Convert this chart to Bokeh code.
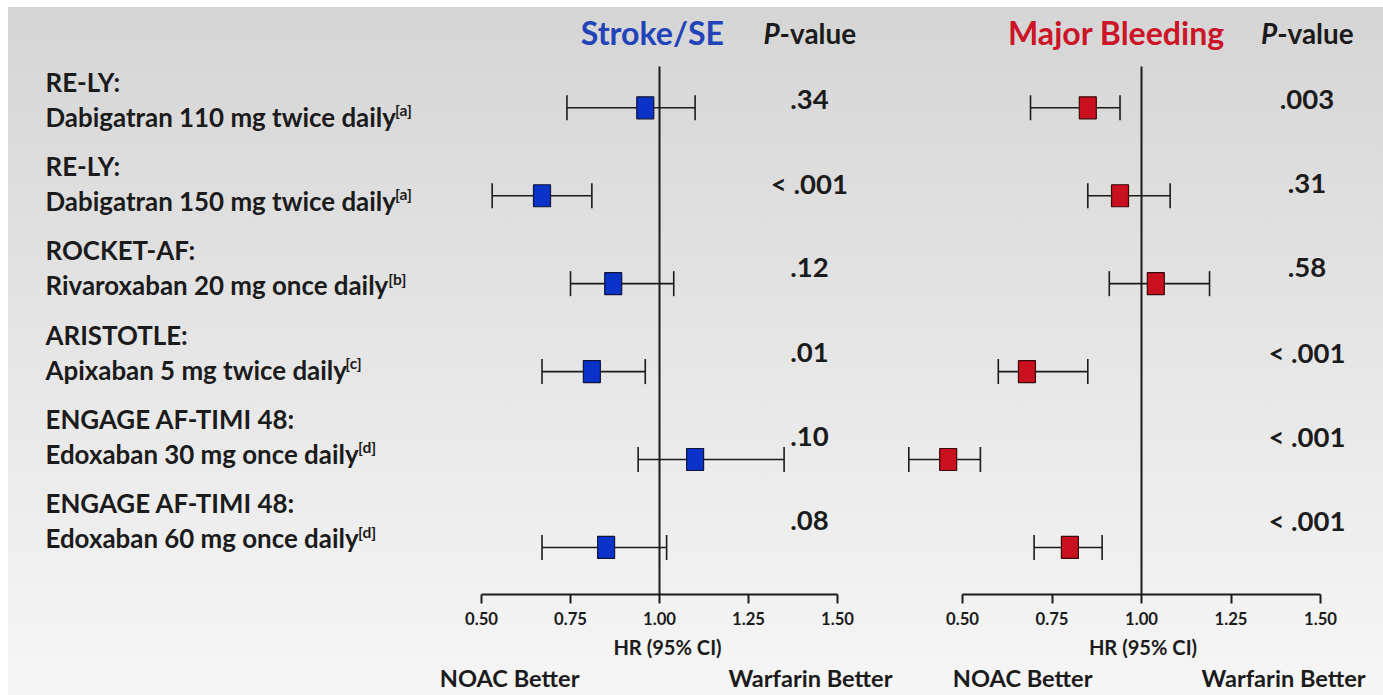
import glob
import os
import struct

from bokeh.core.properties import value
from bokeh.embed import file_html
from bokeh.layouts import Row
from bokeh.models import (ColumnDataSource, FixedTicker, LinearAxis, Range1d,
                          TeeHead, Whisker)
from bokeh.plotting import figure
from bokeh.resources import INLINE

# ---------------------------------------------------------------- data
studies = ["RE-LY:", "RE-LY:", "ROCKET-AF:", "ARISTOTLE:",
           "ENGAGE AF-TIMI 48:", "ENGAGE AF-TIMI 48:"]
regimens = ["Dabigatran 110 mg twice daily", "Dabigatran 150 mg twice daily",
            "Rivaroxaban 20 mg once daily", "Apixaban 5 mg twice daily",
            "Edoxaban 30 mg once daily", "Edoxaban 60 mg once daily"]
refs = ["[a]", "[a]", "[b]", "[c]", "[d]", "[d]"]

stroke_hr = [0.96, 0.67, 0.87, 0.81, 1.10, 0.85]
stroke_lo = [0.74, 0.53, 0.75, 0.67, 0.94, 0.67]
stroke_hi = [1.10, 0.81, 1.04, 0.96, 1.35, 1.02]
stroke_p = [".34", "< .001", ".12", ".01", ".10", ".08"]

bleed_hr = [0.85, 0.94, 1.04, 0.68, 0.46, 0.80]
bleed_lo = [0.69, 0.85, 0.91, 0.60, 0.35, 0.70]
bleed_hi = [0.94, 1.08, 1.19, 0.85, 0.55, 0.89]
bleed_p = [".003", ".31", ".58", "< .001", "< .001", "< .001"]

tick_values = [0.5, 0.75, 1.0, 1.25, 1.5]
tick_labels = ["0.50", "0.75", "1.00", "1.25", "1.50"]
axis_title = "HR (95% CI)"
left_note = "NOAC Better"
right_note = "Warfarin Better"

rows = list(range(len(studies)))

# ---------------------------------------------------------------- font metrics (for text sizing)
def _make_measure():
    path = None
    for root in ["/usr/share/fonts", "/usr/local/share/fonts",
                 os.path.expanduser("~/.fonts"), os.path.expanduser("~/.local/share/fonts")]:
        hits = glob.glob(os.path.join(root, "**", "Lato-Bold.ttf"), recursive=True)
        if hits:
            path = hits[0]
            break
    if path is None:
        raise RuntimeError("no font")
    d = open(path, "rb").read()
    base = struct.unpack(">I", d[12:16])[0] if d[:4] == b"ttcf" else 0
    n = struct.unpack(">H", d[base + 4:base + 6])[0]
    tab = {}
    for i in range(n):
        tag, _, off, _ln = struct.unpack(">4sIII", d[base + 12 + 16 * i: base + 28 + 16 * i])
        tab[tag] = off
    upem = struct.unpack(">H", d[tab[b"head"] + 18: tab[b"head"] + 20])[0]
    nhm = struct.unpack(">H", d[tab[b"hhea"] + 34: tab[b"hhea"] + 36])[0]
    hm = tab[b"hmtx"]
    adv = [struct.unpack(">H", d[hm + 4 * i: hm + 4 * i + 2])[0] for i in range(nhm)]
    cm = tab[b"cmap"]
    nsub = struct.unpack(">H", d[cm + 2: cm + 4])[0]
    st = None
    for i in range(nsub):
        pid, eid, off = struct.unpack(">HHI", d[cm + 4 + 8 * i: cm + 12 + 8 * i])
        if struct.unpack(">H", d[cm + off: cm + off + 2])[0] == 4:
            st = cm + off
            if (pid, eid) == (3, 1):
                break
    segx2 = struct.unpack(">H", d[st + 6: st + 8])[0]
    seg = segx2 // 2
    ends = struct.unpack(">%dH" % seg, d[st + 14: st + 14 + segx2])
    starts = struct.unpack(">%dH" % seg, d[st + 16 + segx2: st + 16 + 2 * segx2])
    deltas = struct.unpack(">%dh" % seg, d[st + 16 + 2 * segx2: st + 16 + 3 * segx2])
    ro_pos = st + 16 + 3 * segx2
    ros = struct.unpack(">%dH" % seg, d[ro_pos: ro_pos + segx2])

    def gid(c):
        for i in range(seg):
            if ends[i] >= c:
                if starts[i] > c:
                    return 0
                if ros[i] == 0:
                    return (c + deltas[i]) & 0xFFFF
                a = ro_pos + 2 * i + ros[i] + 2 * (c - starts[i])
                g = struct.unpack(">H", d[a:a + 2])[0]
                return (g + deltas[i]) & 0xFFFF if g else 0
        return 0

    def width(s):
        return sum(adv[min(gid(ord(ch)), nhm - 1)] for ch in s) / upem
    return width


try:
    measure = _make_measure()
except Exception:
    def measure(s):
        return 0.55 * len(s)


def fit(text, px, lo, hi):
    return max(lo, min(hi, px / measure(text)))


FONT = "Lato"
INK = "#1b1b1b"
LABEL_FS = fit(regimens[0], 352, 20, 30)
SUP_FS = LABEL_FS * 0.6
HEAD_FS = fit("Major Bleeding", 218, 24, 34)
PHEAD_FS = fit("P-value", 94, 18, 30)
PVAL_FS = fit("< .001", 77, 18, 28)
TICK_FS = fit("0.50", 33, 13, 20)
AXLAB_FS = fit(axis_title, 108, 14, 22)
NOTE_FS = fit(left_note, 142, 18, 28)

H = 695
FRAME_BOTTOM_PX = 594
# vertical placement: marks use one row scale, texts another
MARK_Y0, MARK_DY = 107.3, 87.93
TXT_Y0, TXT_DY = 98.6, 84.33
MARK_RANGE = ((FRAME_BOTTOM_PX - MARK_Y0) / MARK_DY, -MARK_Y0 / MARK_DY)
TXT_RANGE = ((FRAME_BOTTOM_PX - TXT_Y0) / TXT_DY, -TXT_Y0 / TXT_DY)
HEAD_Y = (32 - TXT_Y0) / TXT_DY
LINE_TOP = (66 - MARK_Y0) / MARK_DY


def px(v):
    return "%.1fpx" % v


def base_fig(width, x_range, y_range):
    return figure(width=width, height=H, x_range=x_range, y_range=y_range,
                  x_axis_type=None, y_axis_type=None,
                  output_backend="svg", toolbar_location=None,
                  min_border_left=0, min_border_right=0, min_border_top=0,
                  min_border_bottom=H - FRAME_BOTTOM_PX,
                  background_fill_alpha=0, border_fill_alpha=0,
                  outline_line_color=None)


# ---------------------------------------------------------------- label column
LAB_W = 432
lab = base_fig(LAB_W, Range1d(0, LAB_W), Range1d(*TXT_RANGE))
lab_src = ColumnDataSource(dict(row=rows, study=studies, regimen=regimens, ref=refs,
                                ref_dx=[LABEL_FS * measure(r) - 2.5 for r in regimens]))
common = dict(text_font=value(FONT), text_font_style="bold", text_color=INK,
              text_baseline="middle", text_align="left")
lab.text(x=45, y="row", text="study", y_offset=-17.5, source=lab_src,
         text_font_size=px(LABEL_FS), **common)
lab.text(x=45, y="row", text="regimen", y_offset=17.5, source=lab_src,
         text_font_size=px(LABEL_FS), **common)
lab.text(x=45, y="row", text="ref", x_offset="ref_dx", y_offset=17.5 - 6.5, source=lab_src,
         text_font_size=px(SUP_FS), **common)


# ---------------------------------------------------------------- forest panels
def panel(width, xr, hr, lo, hi, pv, box_fill, box_line, title, title_color,
          title_x, pcol, note_x):
    p = base_fig(width, Range1d(*xr), Range1d(*MARK_RANGE))
    p.extra_y_ranges = {"txt": Range1d(*TXT_RANGE)}
    src = ColumnDataSource(dict(row=rows, hr=hr, lo=lo, hi=hi, p=pv))

    # line of no effect
    p.segment(x0=1.0, x1=1.0, y0=LINE_TOP, y1=MARK_RANGE[0],
              line_color=INK, line_width=2)

    head = dict(line_color=INK, line_width=1.6, size=25)
    w = Whisker(source=src, base="row", lower="lo", upper="hi", dimension="width",
                line_color=INK, line_width=1.6, level="underlay",
                lower_head=TeeHead(**head), upper_head=TeeHead(**head))
    p.add_layout(w)
    p.rect(x="hr", y="row", width=17, height=22, width_units="screen",
           height_units="screen", source=src, fill_color=box_fill,
           line_color=box_line, line_width=1.2)

    # p-values
    p.text(x=pcol, y="row", text="p", source=src, y_range_name="txt",
           text_font=value(FONT), text_font_style="bold", text_color=INK,
           text_font_size=px(PVAL_FS), text_align="center", text_baseline="middle")

    # headers
    p.text(x=[title_x], y=[HEAD_Y], text=[title], y_range_name="txt",
           text_font=value(FONT), text_font_style="bold", text_color=title_color,
           text_font_size=px(HEAD_FS), text_align="center", text_baseline="middle")
    wP = PHEAD_FS * measure("P")
    wtot = PHEAD_FS * measure("P-value")
    dx = -wtot / 2 + wP
    p.text(x=[pcol], y=[HEAD_Y], text=["P"], x_offset=dx, y_range_name="txt",
           text_font=value(FONT), text_font_style="bold italic", text_color=INK,
           text_font_size=px(PHEAD_FS), text_align="right", text_baseline="middle")
    p.text(x=[pcol], y=[HEAD_Y], text=["-value"], x_offset=dx, y_range_name="txt",
           text_font=value(FONT), text_font_style="bold", text_color=INK,
           text_font_size=px(PHEAD_FS), text_align="left", text_baseline="middle")

    ax = LinearAxis(ticker=FixedTicker(ticks=tick_values, minor_ticks=[]),
                    bounds=(tick_values[0], tick_values[-1]),
                    major_label_overrides=dict(zip(tick_values, tick_labels)),
                    axis_label=axis_title,
                    axis_line_color=INK, axis_line_width=2,
                    major_tick_line_color=INK, major_tick_line_width=2,
                    major_tick_in=0, major_tick_out=9,
                    minor_tick_in=0, minor_tick_out=0,
                    major_label_standoff=8,
                    major_label_text_font=FONT, major_label_text_font_style="bold",
                    major_label_text_font_size=px(TICK_FS), major_label_text_color=INK,
                    axis_label_standoff=7,
                    axis_label_text_font=FONT, axis_label_text_font_style="bold",
                    axis_label_text_font_size=px(AXLAB_FS), axis_label_text_color=INK)
    p.add_layout(ax, "below")
    ax2 = LinearAxis(ticker=FixedTicker(ticks=list(note_x), minor_ticks=[]),
                     major_label_overrides={note_x[0]: left_note, note_x[1]: right_note},
                     axis_line_color=None, major_tick_line_color=None,
                     minor_tick_line_color=None, major_tick_in=0, major_tick_out=0,
                     minor_tick_in=0, minor_tick_out=0, major_label_standoff=2,
                     major_label_text_font=FONT, major_label_text_font_style="bold",
                     major_label_text_font_size=px(NOTE_FS), major_label_text_color=INK)
    p.add_layout(ax2, "below")
    return p


# left panel spans screen x 432..902 with 356 px per HR unit, HR 1.0 at x=659
S_W = 470
s_start = 1 - (659 - LAB_W) / 356.0
stroke = panel(S_W, (s_start, s_start + S_W / 356.0), stroke_hr, stroke_lo, stroke_hi,
               stroke_p, "#0a32c8", "#10163a", "Stroke/SE", "#2244b8", 0.98, 1.421,
               (0.579, 1.424))

# right panel spans screen x 902..1383 with 358 px per HR unit, HR 1.0 at x=1141
B_W = 1383 - LAB_W - S_W
b_start = 1 - (1141 - (LAB_W + S_W)) / 358.0
bleed = panel(B_W, (b_start, b_start + B_W / 358.0), bleed_hr, bleed_lo, bleed_hi,
              bleed_p, "#c8101e", "#3a0a0a", "Major Bleeding", "#cc1428", 0.93, 1.462,
              (0.668, 1.397))

layout = Row(children=[lab, stroke, bleed], spacing=0, styles={
    "background": ("linear-gradient(to right, #ffffff 0px, #ffffff 8px, rgba(255,255,255,0) 8px), "
                   "linear-gradient(to bottom, #ffffff 0px, #ffffff 7px, #d5d5d5 7px, #f6f6f6 695px)"),
})

open("out.html", "w").write(file_html(layout, INLINE))
